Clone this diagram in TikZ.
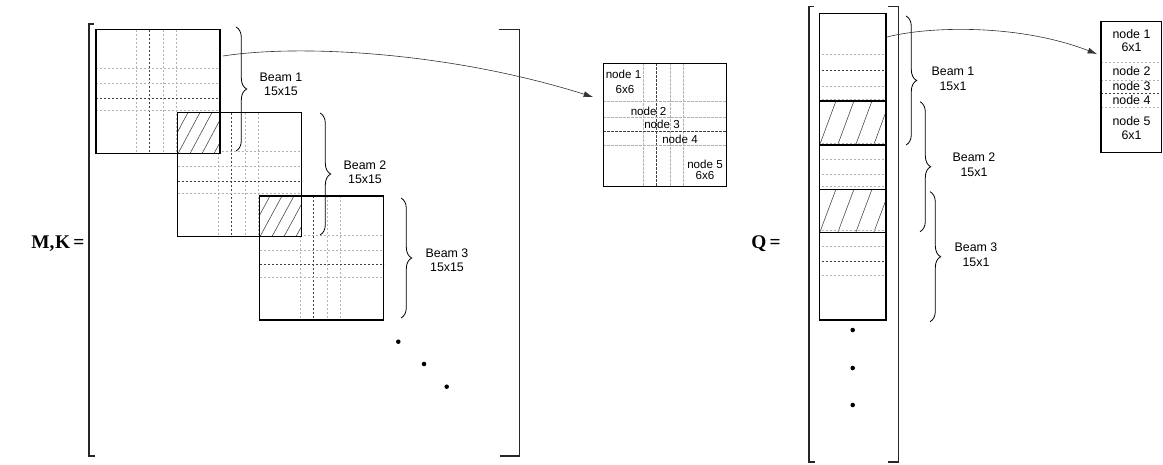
\documentclass[tikz,border=0pt]{standalone}
\usepackage{fontspec}
\setmainfont{Liberation Serif}
\newfontfamily\arialf{Liberation Sans}
\usetikzlibrary{decorations.pathreplacing,arrows.meta}
\newcommand{\hatchbox}[6]{%
  \begin{scope}
    \clip (#1,#2) rectangle (#3,#4);
    \fill[white] (#1,#2) rectangle (#3,#4);
    \foreach \hk in {-4,...,6} {\draw[hatch] ({#1+\hk*#5},{#4+1}) -- ++(#6,{-(#4-#2)-2});}
  \end{scope}}
\newcommand{\beamgrid}[2]{%
  \foreach \gx [count=\gi] in {40.7,53.3,67.3,80.7} {
    \ifnum\gi=2 \draw[kd] ({#1+\gx},#2) -- ({#1+\gx},{#2+124});
    \else \draw[gd] ({#1+\gx},#2) -- ({#1+\gx},{#2+124}); \fi}
  \foreach \gy [count=\gi] in {39,54,68.5,81} {
    \ifnum\gi=3 \draw[kd] (#1,{#2+\gy}) -- ({#1+124},{#2+\gy});
    \else \draw[gd] (#1,{#2+\gy}) -- ({#1+124},{#2+\gy}); \fi}}
\tikzset{
  bx/.style={line width=0.9pt},
  gd/.style={gray!60, dash pattern=on 1.8pt off 1.2pt, line width=0.45pt},
  kd/.style={black!75, dash pattern=on 1.8pt off 1.2pt, line width=0.45pt},
  hatch/.style={line width=0.45pt, black!70},
  brk/.style={line width=0.8pt, black!85},
  brc/.style={decorate, decoration={brace, amplitude=8pt}, line width=0.6pt},
  lbl/.style={font=\arialf\fontsize{9.3}{10}\selectfont, inner sep=0pt},
  nlbl/.style={font=\arialf\fontsize{8.7}{10}\selectfont, inner sep=0pt},
  eq/.style={font=\bfseries\fontsize{14.5}{16}\selectfont, inner sep=0pt},
  arr/.style={line width=0.45pt, black!80, -{Latex[length=7pt,width=4.5pt]}},
  dot/.style={fill=black}
}
\begin{document}
\begin{tikzpicture}[x=0.75pt,y=-0.75pt]
\useasboundingbox (0,0) rectangle (1163,464);
% ---------- M,K ----------
\node[eq] (mk) at (58,244) {M,\kern0.5pt K\,=};
\draw[brk] (94,24) -- (89,24) -- (89,456) -- (95,456);
\draw[brk] (499,29.5) -- (519.3,29.5) -- (519.3,456) -- (500,456);
% grids
\beamgrid{96}{29.5}
\beamgrid{177.5}{112.5}
\beamgrid{259.5}{196}
% overlaps
\hatchbox{177.5}{112.5}{220}{153.5}{12}{23}
\hatchbox{259.5}{196}{301.5}{236.5}{12}{23}
% boxes
\draw[bx] (96,29.5) rectangle (220,153.5);
\draw[bx] (177.5,112.5) rectangle (301.5,236.5);
\draw[bx] (259.5,196) rectangle (383.5,320);
% braces
\draw[brc] (236,27) -- (236,151);
\draw[brc] (320,113) -- (320,235);
\draw[brc] (401,198) -- (401,318);
\node[lbl] (l1a) at (281,77) {Beam 1};
\node[lbl] (l1b) at (281,91) {15x15};
\node[lbl] (l2a) at (365,165) {Beam 2};
\node[lbl] (l2b) at (365,179) {15x15};
\node[lbl] (l3a) at (447,253) {Beam 3};
\node[lbl] (l3b) at (447,267) {15x15};
% dots
\fill[dot] (398.3,341.7) circle[radius=1.7pt];
\fill[dot] (424,364) circle[radius=1.7pt];
\fill[dot] (446.7,386.7) circle[radius=1.7pt];
% ---------- node box 6x6 ----------
\foreach \gx [count=\gi] in {643.3,656.7,670,683.3} {
  \ifnum\gi=2 \draw[kd] (\gx,63.3) -- (\gx,186.7); \else \draw[gd] (\gx,63.3) -- (\gx,186.7); \fi}
\foreach \gy [count=\gi] in {101.7,117.7,131.7,145} {
  \ifnum\gi=3 \draw[kd] (603.3,\gy) -- (726.7,\gy); \else \draw[gd] (603.3,\gy) -- (726.7,\gy); \fi}
\node[nlbl] (n1) at (623.5,74) {node 1};
\node[nlbl] (n1s) at (625,89.5) {6x6};
\node[nlbl] (n2) at (648.5,111) {node 2};
\node[nlbl] (n3) at (662,124) {node 3};
\node[nlbl] (n4) at (680,139.5) {node 4};
\node[nlbl] (n5) at (705,164) {node 5};
\node[nlbl] (n5s) at (705,176) {6x6};
\draw[bx] (603.3,63.3) rectangle (726.7,186.7);
% arrow 1
\coordinate (a1s) at (223,56);
\coordinate (a1e) at (593,97);
\draw[arr] (a1s) .. controls (300,44) and (450,52) .. (a1e);
% ---------- Q ----------
\node[eq] (qq) at (766,244) {Q\,=};
\draw[brk] (814,6.5) -- (809,6.5) -- (809,462) -- (815,462);
\draw[brk] (888,6.7) -- (898.3,6.7) -- (898.3,462) -- (888,462);
\foreach \gy in {54.3,86,99.3,159,174,186,246,275} {\draw[gd] (821.5,\gy) -- (884,\gy);}
\foreach \gy in {70.7,261} {\draw[kd] (821.5,\gy) -- (884,\gy);}
\hatchbox{819.3}{101}{886}{145}{18}{17}
\hatchbox{819.3}{189.3}{886}{232.7}{18}{17}
\draw[gd] (821.5,143.3) -- (884,143.3);
\draw[gd] (821.5,230.5) -- (884,230.5);
\draw[bx] (819.3,13.3) rectangle (886,320);
\foreach \gy in {101,145,189.3,232.7} {\draw[bx] (819.3,\gy) -- (886,\gy);}
% Q braces
\draw[brc] (906,16) -- (906,145);
\draw[brc] (920,101.7) -- (920,231.7);
\draw[brc] (930,191.7) -- (930,321.7);
\node[lbl] (q1a) at (953,71) {Beam 1};
\node[lbl] (q1b) at (953,86.5) {15x1};
\node[lbl] (q2a) at (974,157) {Beam 2};
\node[lbl] (q2b) at (974,172) {15x1};
\node[lbl] (q3a) at (976,247) {Beam 3};
\node[lbl] (q3b) at (976,262) {15x1};
% Q dots
\fill[dot] (852.7,330) circle[radius=1.7pt];
\fill[dot] (852.7,368) circle[radius=1.7pt];
\fill[dot] (852.7,405) circle[radius=1.7pt];
% ---------- node box 6x1 ----------
\foreach \gy in {62.3,80,107.3} {\draw[gd] (1101,\gy) -- (1161.7,\gy);}
\draw[kd] (1101,93.3) -- (1161.7,93.3);
\node[lbl] (m1) at (1131.5,34) {node 1};
\node[lbl] (m1s) at (1131.5,47.3) {6x1};
\node[lbl] (m2) at (1131.5,71.5) {node 2};
\node[lbl] (m3) at (1131.5,86.5) {node 3};
\node[lbl] (m4) at (1131.5,100) {node 4};
\node[lbl] (m5) at (1131.5,121) {node 5};
\node[lbl] (m5s) at (1131.5,135) {6x1};
\draw[bx] (1101,21.7) rectangle (1161.7,152.7);
% arrow 2
\coordinate (a2s) at (887,37);
\coordinate (a2e) at (1097,54);
\draw[arr] (a2s) .. controls (930,26) and (1020,24) .. (a2e);
\end{tikzpicture}
\end{document}
